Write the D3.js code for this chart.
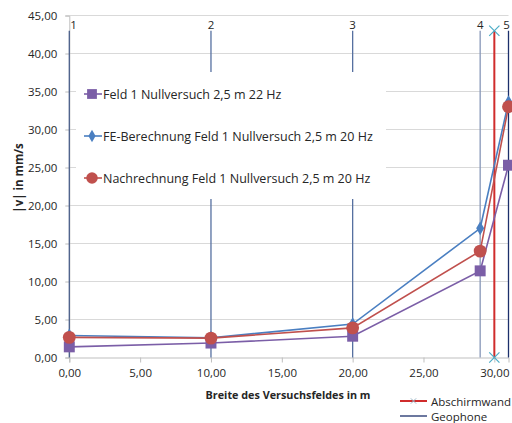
<!DOCTYPE html>
<html><head><meta charset="utf-8">
<script src="https://cdn.jsdelivr.net/npm/d3@7"></script>
<style>body{margin:0;background:#fff}svg{display:block}text{font-family:"Open Sans",sans-serif;fill:#262626}</style>
</head><body><svg id="c" width="512" height="423"></svg>
<script>
const xPos = [0, 10, 20, 29, 31];
const feldNull22 = [1.4, 1.9, 2.8, 11.4, 25.3];
const feBerechnung20 = [2.9, 2.6, 4.4, 17.0, 33.6];
const nachrechnung20 = [2.65, 2.55, 3.9, 14.0, 33.0];
const seriesNames = ["Feld 1 Nullversuch 2,5 m 22 Hz", "FE-Berechnung Feld 1 Nullversuch 2,5 m 20 Hz", "Nachrechnung  Feld 1 Nullversuch 2,5 m 20 Hz"];
const geophoneX = [0, 10, 20, 29, 31];
const geophoneLabels = ["1", "2", "3", "4", "5"];
const geophoneTop = 43;
const abschirmX = 30;
const abschirmY = [0, 43];
const xTicks = [0, 5, 10, 15, 20, 25, 30];
const yTicks = [0, 5, 10, 15, 20, 25, 30, 35, 40, 45];

const svg = d3.select("#c");
const x = d3.scaleLinear().domain([0, 31]).range([69.3, 508.5]);
const y = d3.scaleLinear().domain([0, 45]).range([357.5, 15.5]);
const fmt = v => d3.format(".2f")(v).replace(".", ",");

// gridlines
svg.append("g").selectAll("line").data(yTicks.filter(d => d > 0)).join("line")
  .attr("x1", x(0)).attr("x2", x(31)).attr("y1", d => y(d)).attr("y2", d => y(d))
  .attr("stroke", "#d9d9d9").attr("stroke-width", 1);

// axes
const xAxis = svg.append("g").attr("transform", `translate(0,${y(0)})`)
  .call(d3.axisBottom(x).tickValues(xTicks).tickFormat(fmt).tickSize(5).tickPadding(6));
const yAxis = svg.append("g").attr("transform", `translate(${x(0)},0)`)
  .call(d3.axisLeft(y).tickValues(yTicks).tickFormat(fmt).tickSize(4).tickPadding(8));
[xAxis, yAxis].forEach(a => {
  a.select(".domain").attr("stroke", "#bfbfbf");
  a.selectAll(".tick line").attr("stroke", "#bfbfbf");
  a.selectAll("text").style("font-size", "11.5px").attr("fill", "#262626").style("font-family", '"Open Sans",sans-serif');
});

// geophone lines
const geoColors = ["#4a5f8a", "#5670a0", "#5670a0", "#8797b8", "#1c2f6b"];
svg.append("g").selectAll("line").data(geophoneX).join("line")
  .attr("x1", d => x(d)).attr("x2", d => x(d)).attr("y1", y(0)).attr("y2", y(geophoneTop))
  .attr("stroke", (d, i) => geoColors[i]).attr("stroke-width", 1.3);
svg.append("g").selectAll("text").data(geophoneX).join("text")
  .attr("x", (d, i) => x(d) + (i === 0 ? 1 : i === 4 ? -2 : 0))
  .attr("y", y(geophoneTop) - 6)
  .attr("text-anchor", (d, i) => i === 0 ? "start" : "middle")
  .attr("dominant-baseline", "central").style("font-size", "11.5px").attr("fill", "#111")
  .text((d, i) => geophoneLabels[i]);

// Abschirmwand
svg.append("line").attr("x1", x(abschirmX)).attr("x2", x(abschirmX))
  .attr("y1", y(abschirmY[0])).attr("y2", y(abschirmY[1]))
  .attr("stroke", "#d02c2c").attr("stroke-width", 2);
const cross = d3.symbol().type(d3.symbolX).size(70);
svg.append("g").selectAll("path").data(abschirmY).join("path")
  .attr("transform", d => `translate(${x(abschirmX)},${y(d)})`)
  .attr("d", cross()).attr("fill", "none").attr("stroke", "#4bacc6").attr("stroke-width", 1.2);

// data series
const series = [
  {vals: feldNull22, color: "#7b5ea7", sym: d3.symbolSquare, size: 120},
  {vals: feBerechnung20, color: "#4a7fc1", sym: d3.symbolDiamond, size: 55},
  {vals: nachrechnung20, color: "#c0504d", sym: d3.symbolCircle, size: 130},
];
const line = d3.line().x((d, i) => x(xPos[i])).y(d => y(d));
series.forEach(s => {
  svg.append("path").datum(s.vals).attr("d", line).attr("fill", "none")
    .attr("stroke", s.color).attr("stroke-width", 1.6);
});
series.forEach(s => {
  svg.append("g").selectAll("path").data(s.vals).join("path")
    .attr("transform", (d, i) => `translate(${x(xPos[i])},${y(d)})`)
    .attr("d", d3.symbol().type(s.sym).size(s.size)()).attr("fill", s.color);
});

// in-plot legend
const lg = svg.append("g");
lg.append("rect").attr("x", 76).attr("y", 72).attr("width", 310).attr("height", 127).attr("fill", "#fff");
const ly = [94, 136, 178];
series.forEach((s, i) => {
  lg.append("line").attr("x1", 84).attr("x2", 102).attr("y1", ly[i]).attr("y2", ly[i])
    .attr("stroke", s.color).attr("stroke-width", 1.6);
  lg.append("path").attr("transform", `translate(92,${ly[i]})`)
    .attr("d", d3.symbol().type(s.sym).size(s.size * 0.8)()).attr("fill", s.color);
  lg.append("text").attr("x", 103).attr("y", ly[i]).attr("dominant-baseline", "central")
    .style("font-size", "12.5px").attr("fill", "#111").text(seriesNames[i]);
});

// bottom legend
svg.append("line").attr("x1", 400).attr("x2", 427).attr("y1", 401).attr("y2", 401).attr("stroke", "#d02c2c").attr("stroke-width", 2);
svg.append("path").attr("transform", "translate(413.5,401)").attr("d", d3.symbol().type(d3.symbolX).size(20)()).attr("stroke", "#9bb7c8").attr("fill", "none");
svg.append("text").attr("x", 431).attr("y", 401).attr("dominant-baseline", "central").style("font-size", "11.5px").text("Abschirmwand");
svg.append("line").attr("x1", 400).attr("x2", 427).attr("y1", 416).attr("y2", 416).attr("stroke", "#1c2f6b").attr("stroke-width", 1.3);
svg.append("text").attr("x", 431).attr("y", 416).attr("dominant-baseline", "central").style("font-size", "11.5px").text("Geophone");

// axis titles
svg.append("text").attr("x", 288).attr("y", 394).attr("text-anchor", "middle").attr("dominant-baseline", "central")
  .style("font-size", "10.8px").style("font-weight", "bold").attr("fill", "#111").text("Breite des Versuchsfeldes in m");
svg.append("text").attr("transform", "translate(18,178) rotate(-90)").attr("text-anchor", "middle").attr("dominant-baseline", "central")
  .style("font-size", "11.5px").style("font-weight", "bold").attr("fill", "#111").text("|v| in mm/s");
</script></body></html>
